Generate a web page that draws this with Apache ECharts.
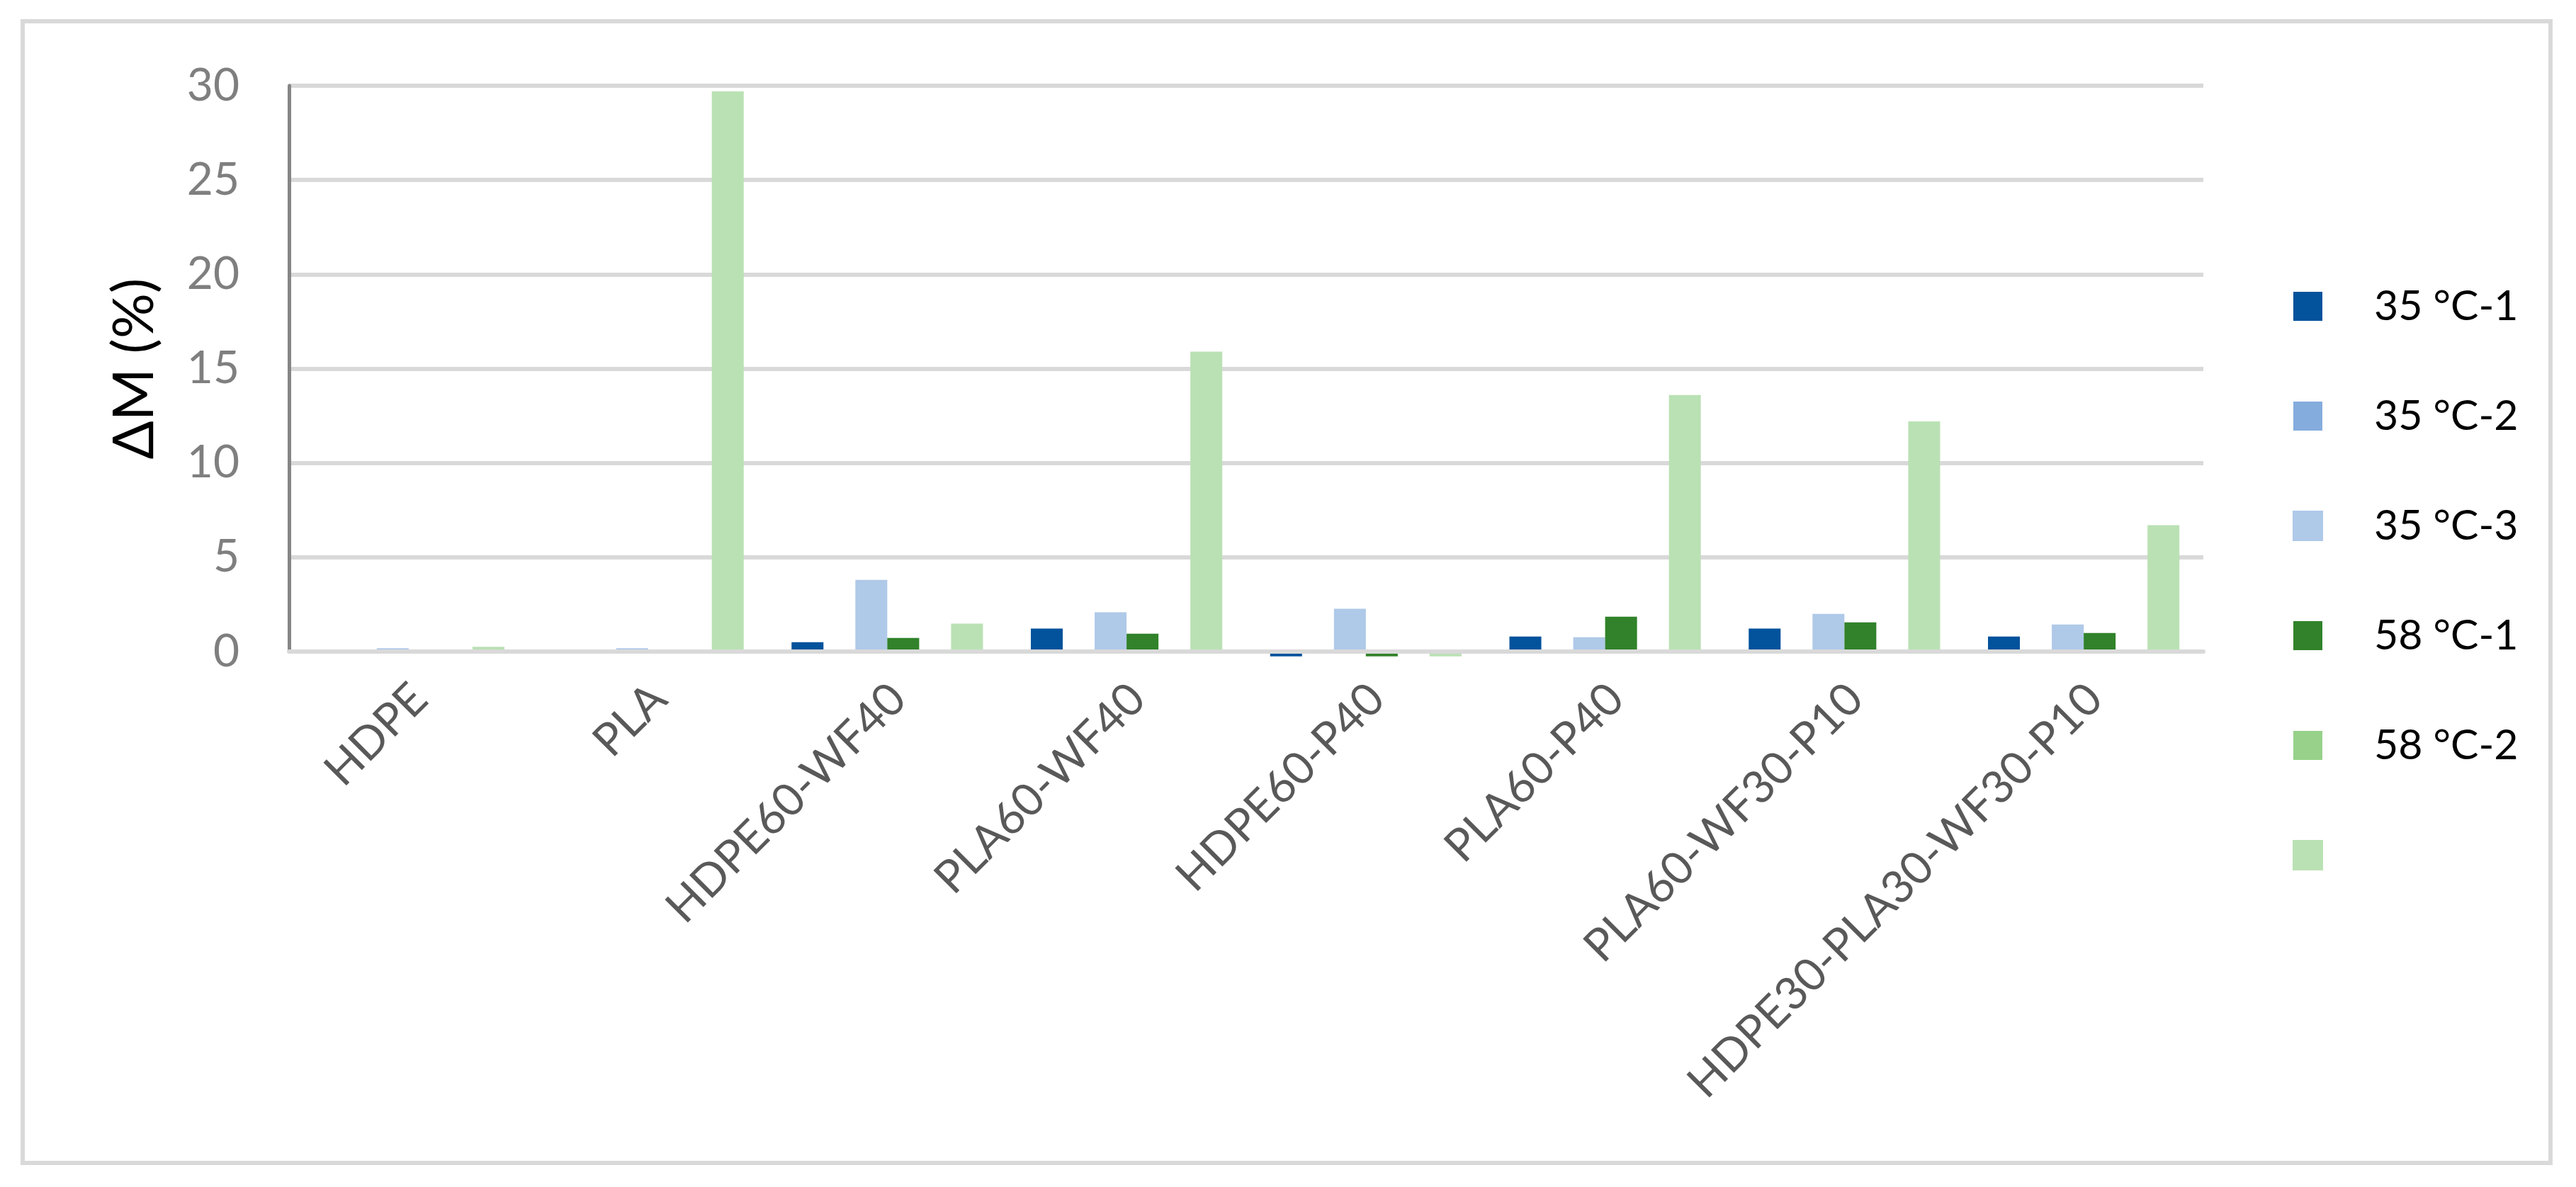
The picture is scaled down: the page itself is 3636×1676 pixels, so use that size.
<!DOCTYPE html>
<html>
<head>
<meta charset="utf-8">
<script src="https://cdn.jsdelivr.net/npm/echarts@6/dist/echarts.min.js"></script>
<style>
  html, body { margin: 0; padding: 0; background: #fff; }
  #chart { width: 3636px; height: 1676px; }
</style>
</head>
<body>
<div id="chart"></div>
<script>
// samples on the category axis
const categories = ['HDPE', 'PLA', 'HDPE60-WF40', 'PLA60-WF40', 'HDPE60-P40', 'PLA60-P40', 'PLA60-WF30-P10', 'HDPE30-PLA30-WF30-P10']
const seriesNames = ['35 °C-1', '35 °C-2', '35 °C-3', '58 °C-1', '58 °C-2', ' ']
// ΔM (%) per sample
const t35_1 = [0, 0, 0.5, 1.22, -0.25, 0.8, 1.22, 0.8]
const t35_2 = [null, null, null, null, null, null, null, null]
const t35_3 = [0.18, 0.18, 3.8, 2.08, 2.27, 0.76, 2.0, 1.44]
const t58_1 = [0, 0, 0.72, 0.95, -0.25, 1.85, 1.55, 0.99]
const t58_2 = [null, null, null, null, null, null, null, null]
const t58_3 = [0.25, 29.7, 1.48, 15.9, -0.25, 13.6, 12.2, 6.7]
const yTicks = [0, 5, 10, 15, 20, 25, 30]

const colors = ['#02529C', '#84ACDD', '#AFC9E8', '#31822A', '#97D18A', '#BAE1B4']
const values = [t35_1, t35_2, t35_3, t58_1, t58_2, t58_3]
const font = 'Lato, "Open Sans", sans-serif'

const chart = echarts.init(document.getElementById('chart'))

const series = values.map((data, i) => ({
  type: 'bar',
  name: seriesNames[i],
  data: data,
  barGap: '0%',
  barCategoryGap: '20%',
  clip: false,
  itemStyle: {
    color: colors[i],
    // the two pale series have an outline in their own colour
    borderColor: colors[i],
    borderWidth: (i === 2 || i === 5) ? 3 : 0
  }
}))

chart.setOption({
  animation: false,
  backgroundColor: '#fff',
  textStyle: { fontFamily: font },
  graphic: [{
    // chart frame
    type: 'rect',
    shape: { x: 32, y: 30, width: 3568, height: 1612 },
    style: { fill: null, stroke: '#D9D9D9', lineWidth: 6 },
    silent: true
  }],
  grid: {
    left: 408,
    right: 526,
    top: 121,
    bottom: 756
  },
  legend: {
    orient: 'vertical',
    left: 3231,
    top: 398,
    itemWidth: 41,
    itemHeight: 41,
    itemGap: 96,
    icon: 'rect',
    data: seriesNames,
    textStyle: {
      fontFamily: font,
      fontSize: 59,
      color: '#000',
      lineHeight: 41,
      padding: [0, 0, 0, 68]
    }
  },
  xAxis: {
    type: 'category',
    data: categories,
    z: 10,
    axisLine: { lineStyle: { color: '#D9D9D9', width: 6 } },
    axisTick: { show: false },
    axisLabel: {
      interval: 0,
      rotate: 45,
      margin: 72,
      padding: [0, -22, 0, 0],
      fontFamily: font,
      fontSize: 64,
      color: '#595959'
    }
  },
  yAxis: {
    type: 'value',
    min: yTicks[0],
    max: yTicks[yTicks.length - 1],
    interval: 5,
    name: 'ΔM (%)',
    nameLocation: 'middle',
    nameGap: 178,
    nameTextStyle: { fontFamily: font, fontSize: 80, color: '#000' },
    axisLine: { show: true, lineStyle: { color: '#868686', width: 5 } },
    axisTick: { show: false },
    axisLabel: {
      margin: 70,
      fontFamily: font,
      fontSize: 64,
      color: '#7F7F7F'
    },
    splitLine: { lineStyle: { color: '#D9D9D9', width: 6 } }
  },
  series: series
})
</script>
</body>
</html>
